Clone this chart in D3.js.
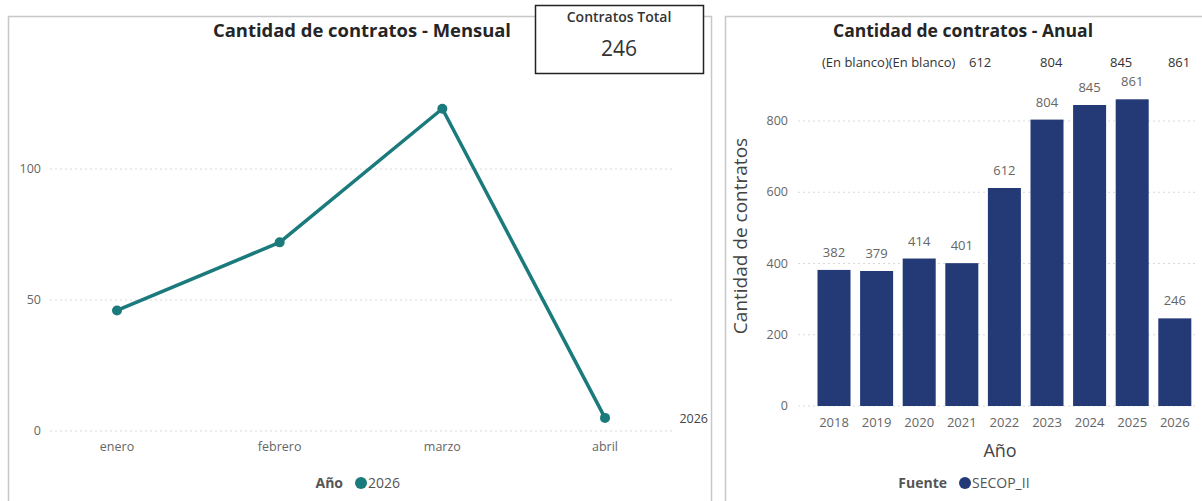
<!DOCTYPE html>
<html><head><meta charset="utf-8">
<script src="https://cdn.jsdelivr.net/npm/d3@7"></script>
<style>
html,body{margin:0;padding:0;background:#fff;}
svg text{font-family:"Segoe UI","Open Sans","Noto Sans",sans-serif;}
</style></head>
<body>
<svg id="c" width="1202" height="501"></svg>
<script>
// ---- data ----
const months = ["enero","febrero","marzo","abril"];
const monthlyValues = [46, 72, 123, 5];
const monthlyTicks = [0, 50, 100];
const seriesYear = "2026";
const totalLabel = "Contratos Total";
const totalValue = 246;

const years = ["2018","2019","2020","2021","2022","2023","2024","2025","2026"];
const yearlyValues = [382, 379, 414, 401, 612, 804, 845, 861, 246];
const yearlyTicks = [0, 200, 400, 600, 800];
const topLabels = ["(En blanco)","(En blanco)","612","804","845","861"];
const sourceName = "SECOP_II";

const svg = d3.select("#c");
const lineColor = "#1b7a7c";
const barColor = "#233a77";
const tickColor = "#666";

// ---- panels ----
svg.append("rect").attr("x",8.5).attr("y",16.5).attr("width",703).attr("height",500)
  .attr("fill","none").attr("stroke","#c8c8c8").attr("stroke-width",1.5);
svg.append("rect").attr("x",725.5).attr("y",16.5).attr("width",500).attr("height",500)
  .attr("fill","none").attr("stroke","#c8c8c8").attr("stroke-width",1.5);

// ---- left chart ----
const xL = d3.scalePoint().domain(months).range([117, 605]);
const yL = d3.scaleLinear().domain([0, 150]).range([431, 38]);

svg.append("text").attr("x",362).attr("y",37).attr("text-anchor","middle")
  .attr("font-size",17.5).attr("font-weight","bold").attr("fill","#252525")
  .attr("textLength",298).attr("lengthAdjust","spacingAndGlyphs")
  .text("Cantidad de contratos - Mensual");

const gL = svg.append("g");
gL.selectAll("line.grid").data(monthlyTicks).join("line")
  .attr("x1",50).attr("x2",673).attr("y1",d=>yL(d)).attr("y2",d=>yL(d))
  .attr("stroke","#d9d9d9").attr("stroke-dasharray","2,3");
gL.selectAll("text.yt").data(monthlyTicks).join("text")
  .attr("x",41).attr("y",d=>yL(d)+4).attr("text-anchor","end")
  .attr("font-size",12.5).attr("fill",tickColor).text(d=>d);
gL.selectAll("text.xt").data(months).join("text")
  .attr("x",d=>xL(d)).attr("y",451).attr("text-anchor","middle")
  .attr("font-size",12.5).attr("fill",tickColor).text(d=>d);

const line = d3.line().x((d,i)=>xL(months[i])).y(d=>yL(d));
gL.append("path").datum(monthlyValues).attr("d",line)
  .attr("fill","none").attr("stroke",lineColor).attr("stroke-width",3.5)
  .attr("stroke-linejoin","round");
gL.selectAll("circle").data(monthlyValues).join("circle")
  .attr("cx",(d,i)=>xL(months[i])).attr("cy",d=>yL(d)).attr("r",5)
  .attr("fill",lineColor);
gL.append("text").attr("x",708).attr("y",yL(monthlyValues[3])+5).attr("text-anchor","end")
  .attr("font-size",12.5).attr("fill","#444").text(seriesYear);

// legend left
svg.append("text").attr("x",343).attr("y",488).attr("text-anchor","end")
  .attr("font-size",14).attr("font-weight","bold").attr("fill","#555").text("Año");
svg.append("circle").attr("cx",361).attr("cy",483).attr("r",6).attr("fill",lineColor);
svg.append("text").attr("x",368).attr("y",488).attr("font-size",14).attr("fill","#555").text(seriesYear);

// card
svg.append("rect").attr("x",535.5).attr("y",5.5).attr("width",168).attr("height",68)
  .attr("fill","#fff").attr("stroke","#222").attr("stroke-width",1.5);
svg.append("text").attr("x",619).attr("y",22).attr("text-anchor","middle")
  .attr("font-size",14).attr("fill","#333").attr("font-weight",600).text(totalLabel);
svg.append("text").attr("x",619).attr("y",56).attr("text-anchor","middle")
  .attr("font-size",21).attr("fill","#333").text(totalValue);

// ---- right chart ----
const xR = d3.scaleBand().domain(years).range([812.7, 1196.1]).paddingInner(0.225).paddingOuter(0.1125);
const yR = d3.scaleLinear().domain([0, 900]).range([406, 85.4]);

svg.append("text").attr("x",963).attr("y",37).attr("text-anchor","middle")
  .attr("font-size",17.5).attr("font-weight","bold").attr("fill","#252525")
  .attr("textLength",260).attr("lengthAdjust","spacingAndGlyphs")
  .text("Cantidad de contratos - Anual");

const gR = svg.append("g");
gR.selectAll("line.grid").data(yearlyTicks).join("line")
  .attr("x1",798).attr("x2",1196).attr("y1",d=>yR(d)).attr("y2",d=>yR(d))
  .attr("stroke","#d9d9d9").attr("stroke-dasharray","2,3");
gR.selectAll("text.yt").data(yearlyTicks).join("text")
  .attr("x",788).attr("y",d=>yR(d)+4).attr("text-anchor","end")
  .attr("font-size",12.5).attr("fill",tickColor).text(d=>d);
gR.selectAll("rect.bar").data(yearlyValues).join("rect")
  .attr("x",(d,i)=>xR(years[i])).attr("width",xR.bandwidth())
  .attr("y",d=>yR(d)).attr("height",d=>yR(0)-yR(d)).attr("fill",barColor);
gR.selectAll("text.vl").data(yearlyValues).join("text")
  .attr("x",(d,i)=>xR(years[i])+xR.bandwidth()/2).attr("y",d=>yR(d)-13)
  .attr("text-anchor","middle").attr("font-size",13).attr("fill",tickColor).text(d=>d);
gR.selectAll("text.xt").data(years).join("text")
  .attr("x",d=>xR(d)+xR.bandwidth()/2).attr("y",427).attr("text-anchor","middle")
  .attr("font-size",13).attr("fill",tickColor).text(d=>d);

// top label row (overlapping labels as rendered)
const topAnchor = [["start",0],["start",1],["middle",3.43],["middle",5.1],["middle",6.74],["middle",8.1]];
let cursor = 822;
topLabels.forEach((t,i)=>{
  const a = topAnchor[i];
  const el = svg.append("text").attr("y",67).attr("font-size",13)
    .attr("font-family","'Liberation Sans Narrow','Liberation Sans',sans-serif")
    .attr("fill","#333").text(t);
  if(a[0]==="start"){ el.attr("x",cursor).attr("text-anchor","start"); cursor += el.node().getComputedTextLength(); }
  else { el.attr("x",xR(years[0])+xR.bandwidth()/2 + a[1]*xR.step()).attr("text-anchor","middle"); }
});

// axis titles
svg.append("text").attr("transform","translate(747,236) rotate(-90)").attr("text-anchor","middle")
  .attr("font-size",19).attr("fill","#444").text("Cantidad de contratos");
svg.append("text").attr("x",1000).attr("y",457).attr("text-anchor","middle")
  .attr("font-size",18).attr("fill","#444").text("Año");

// legend right
svg.append("text").attr("x",947).attr("y",488).attr("text-anchor","end")
  .attr("font-size",14).attr("font-weight","bold").attr("fill","#555").text("Fuente");
svg.append("circle").attr("cx",965).attr("cy",483).attr("r",6).attr("fill",barColor);
svg.append("text").attr("x",972).attr("y",488).attr("font-size",14).attr("fill","#555").text(sourceName);
</script>
</body></html>
